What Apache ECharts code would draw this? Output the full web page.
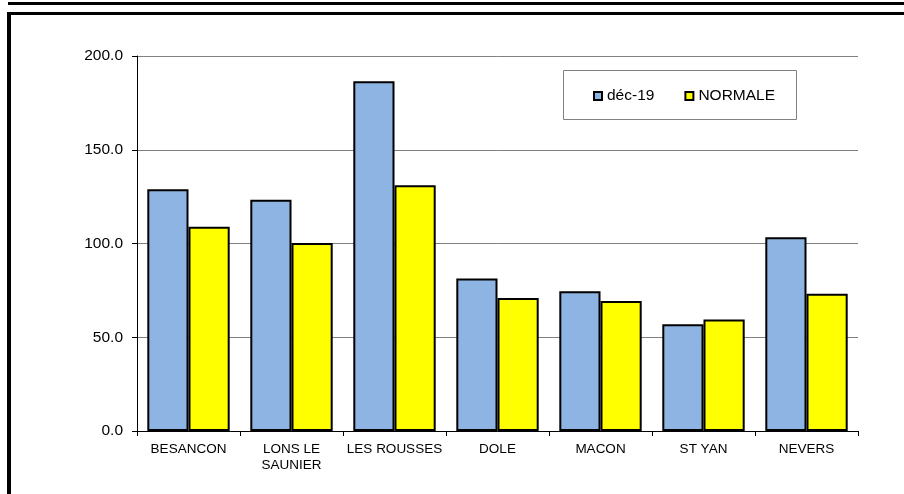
<!DOCTYPE html>
<html>
<head>
<meta charset="utf-8">
<script src="https://cdn.jsdelivr.net/npm/echarts@6/dist/echarts.min.js"></script>
<style>html,body{margin:0;padding:0;background:#fff}#c{width:904px;height:494px}</style>
</head>
<body>
<div id="c"></div>
<script>
var categories = ['BESANCON', 'LONS LE\nSAUNIER', 'LES ROUSSES', 'DOLE', 'MACON', 'ST YAN', 'NEVERS'];
var dec19 = [129.0, 123.3, 186.5, 81.4, 74.6, 56.9, 103.4];
var normale = [108.9, 100.3, 131.1, 71.0, 69.4, 59.5, 73.2];
var seriesNames = ['déc-19', 'NORMALE'];
var yTicks = { min: 0, max: 200, interval: 50 };

var chart = echarts.init(document.getElementById('c'), null, { renderer: 'canvas' });
var font = 'Liberation Sans, Arial, sans-serif';
chart.setOption({
  backgroundColor: '#ffffff',
  animation: false,
  grid: { left: 137, right: 46, top: 56, bottom: 63, containLabel: false },
  legend: {
    data: seriesNames,
    left: 593, top: 88,
    icon: 'rect', itemWidth: 8, itemHeight: 8, itemGap: 30,
    textStyle: { fontFamily: font, fontSize: 15.5, color: '#000' },
    padding: 0
  },
  xAxis: {
    type: 'category',
    data: categories,
    axisLine: { lineStyle: { color: '#000', width: 1 } },
    axisTick: { show: true, alignWithLabel: false, length: 5, lineStyle: { color: '#000' } },
    axisLabel: { fontFamily: font, fontSize: 13.5, color: '#000', margin: 10, lineHeight: 16.5, interval: 0 },
    splitLine: { show: false }
  },
  yAxis: {
    type: 'value',
    min: yTicks.min, max: yTicks.max, interval: yTicks.interval,
    axisLine: { show: true, lineStyle: { color: '#000', width: 1 } },
    axisTick: { show: true, length: 5, lineStyle: { color: '#000' } },
    axisLabel: { fontFamily: font, fontSize: 15.5, color: '#000', margin: 14, formatter: function (v) { return v.toFixed(1); } },
    splitLine: { show: true, lineStyle: { color: '#808080', width: 1 } }
  },
  series: [
    {
      name: seriesNames[0], type: 'bar', data: dec19,
      barGap: '0%', barCategoryGap: '20%',
      itemStyle: { color: '#8EB4E3', borderColor: '#000', borderWidth: 2 }
    },
    {
      name: seriesNames[1], type: 'bar', data: normale,
      barGap: '0%', barCategoryGap: '20%',
      itemStyle: { color: '#FFFF00', borderColor: '#000', borderWidth: 2 }
    }
  ],
  graphic: [
    { type: 'rect', shape: { x: 8, y: 2, width: 896, height: 3 }, style: { fill: '#000' }, silent: true },
    { type: 'rect', shape: { x: 7, y: 12, width: 897, height: 3 }, style: { fill: '#000' }, silent: true },
    { type: 'rect', shape: { x: 7, y: 12, width: 4, height: 482 }, style: { fill: '#000' }, silent: true },
    { type: 'rect', shape: { x: 563.5, y: 70.5, width: 233, height: 49 }, style: { fill: 'none', stroke: '#808080', lineWidth: 1 }, silent: true, z: 0 }
  ]
});
</script>
</body>
</html>
